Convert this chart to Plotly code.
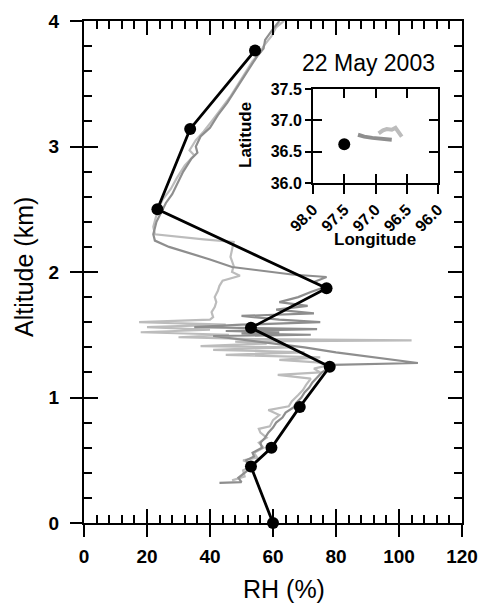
import plotly.graph_objects as go

# ---- profile data: relative humidity (%) vs altitude (km) ----
# spiral-averaged points
pts_rh = [60, 53, 59.5, 68.5, 78, 53, 77, 23.3, 33.7, 54.3]
pts_alt = [0.0, 0.45, 0.6, 0.925, 1.245, 1.555, 1.87, 2.5, 3.14, 3.765]

# continuous profile A (darker grey)
prof_a_rh = [43, 50, 49, 51, 53, 52, 51.5, 54, 53.5, 56.5, 56, 57.5, 58.5, 60, 61, 63,
             64, 66.5, 67.5, 69, 70, 71.5, 72.5, 74, 75.5, 77.5, 79, 106, 92, 80, 70,
             60, 50, 41, 58, 72, 50, 62, 45, 74, 35, 50, 75, 62, 50, 73, 61, 71, 62,
             68, 72, 76.5, 73, 77, 66, 60, 47, 40, 33.5, 27, 22.5, 22, 23, 24.5, 26,
             28, 29.5, 31.5, 34, 36, 35.5, 37, 40, 42.5, 45.5, 48, 50.5, 53, 55, 57,
             57.5, 59.5, 62]
prof_a_alt = [0.32, 0.325, 0.36, 0.40, 0.44, 0.47, 0.50, 0.53, 0.56, 0.60, 0.64, 0.68,
              0.72, 0.76, 0.80, 0.84, 0.88, 0.92, 0.96, 1.00, 1.04, 1.08, 1.12, 1.16,
              1.20, 1.23, 1.26, 1.275, 1.32, 1.36, 1.40, 1.43, 1.46, 1.49, 1.495, 1.50,
              1.51, 1.52, 1.53, 1.545, 1.56, 1.58, 1.60, 1.62, 1.65, 1.67, 1.70, 1.73,
              1.76, 1.80, 1.84, 1.88, 1.92, 1.96, 1.98, 2.00, 2.04, 2.10, 2.15, 2.20,
              2.25, 2.30, 2.40, 2.48, 2.55, 2.62, 2.70, 2.80, 2.90, 2.95, 3.00, 3.08,
              3.15, 3.25, 3.35, 3.45, 3.55, 3.65, 3.72, 3.78, 3.85, 3.92, 4.00]

# continuous profile B (lighter grey)
prof_b_rh = [47, 51, 50.5, 54, 50.5, 55, 54, 57, 55.5, 58, 56, 55.5, 59, 60, 62, 58.5,
             65, 66, 68, 69.5, 70.5, 72, 61.5, 75, 73, 78, 74, 62, 75, 45, 70, 41, 66,
             37, 58, 48, 104, 55, 30, 46, 18, 40, 20, 45, 17.5, 30, 40, 41, 40.5, 41.5,
             42, 41.5, 42.5, 43, 44, 49.5, 47, 47.5, 46.5, 47, 47.5, 38, 29, 22.5, 22,
             23, 23.5, 25, 27.5, 29.5, 32, 35, 33.5, 35.5, 38, 40.5, 43.5, 46.5, 49,
             51.5, 53.5, 56, 57, 59.5, 61, 63.5]
prof_b_alt = [0.34, 0.37, 0.42, 0.46, 0.50, 0.52, 0.56, 0.60, 0.64, 0.68, 0.72, 0.75,
              0.77, 0.82, 0.86, 0.90, 0.93, 0.97, 1.02, 1.06, 1.10, 1.15, 1.18, 1.20,
              1.23, 1.26, 1.28, 1.30, 1.32, 1.34, 1.36, 1.38, 1.40, 1.41, 1.43, 1.445,
              1.455, 1.465, 1.48, 1.50, 1.52, 1.54, 1.56, 1.58, 1.60, 1.61, 1.62, 1.64,
              1.68, 1.72, 1.76, 1.80, 1.85, 1.89, 1.93, 1.97, 2.00, 2.05, 2.12, 2.18,
              2.24, 2.26, 2.28, 2.30, 2.36, 2.44, 2.50, 2.58, 2.66, 2.75, 2.85, 2.93,
              2.97, 3.05, 3.12, 3.20, 3.30, 3.40, 3.50, 3.60, 3.68, 3.75, 3.80, 3.88,
              3.95, 4.00]

# ---- location map (inset) ----
site_lon = [97.5]
site_lat = [36.62]
track_a_lon = [97.28, 97.18, 97.05, 96.92, 96.82, 96.74]
track_a_lat = [36.77, 36.74, 36.72, 36.71, 36.70, 36.69]
track_b_lon = [96.95, 96.88, 96.82, 96.74, 96.68, 96.62, 96.58]
track_b_lat = [36.79, 36.84, 36.86, 36.85, 36.88, 36.80, 36.74]

lat_ticks = [36.0, 36.5, 37.0, 37.5]
lon_ticks = [98.0, 97.5, 97.0, 96.5, 96.0]

DARK = "#8e8e8e"
LIGHT = "#bcbcbc"
FONT = "Liberation Sans, Arial, sans-serif"

fig = go.Figure()
fig.add_trace(go.Scatter(x=prof_b_rh, y=prof_b_alt, mode="lines",
                         line=dict(color=LIGHT, width=2.2), xaxis="x", yaxis="y"))
fig.add_trace(go.Scatter(x=prof_a_rh, y=prof_a_alt, mode="lines",
                         line=dict(color=DARK, width=2.2), xaxis="x", yaxis="y"))
fig.add_trace(go.Scatter(x=pts_rh, y=pts_alt, mode="lines+markers",
                         line=dict(color="black", width=2.8),
                         marker=dict(color="black", size=12), cliponaxis=False,
                         xaxis="x", yaxis="y"))

fig.add_trace(go.Scatter(x=track_b_lon, y=track_b_lat, mode="lines",
                         line=dict(color=LIGHT, width=4), xaxis="x3", yaxis="y3"))
fig.add_trace(go.Scatter(x=track_a_lon, y=track_a_lat, mode="lines",
                         line=dict(color=DARK, width=4), xaxis="x3", yaxis="y3"))
fig.add_trace(go.Scatter(x=site_lon, y=site_lat, mode="markers",
                         marker=dict(color="black", size=12), xaxis="x3", yaxis="y3"))

# empty traces so the overlaid tick-only axes get drawn
fig.add_trace(go.Scatter(x=[None], y=[None], mode="lines", xaxis="x2", yaxis="y2",
                         hoverinfo="skip"))
fig.add_trace(go.Scatter(x=[None], y=[None], mode="lines", xaxis="x4", yaxis="y4",
                         hoverinfo="skip"))

main_x = [84 / 482, 462 / 482]
main_y = [1 - 523 / 603, 1 - 21 / 603]
ins_x = [313 / 482, 438 / 482]
ins_y = [1 - 183 / 603, 1 - 89 / 603]

tickfont = dict(family=FONT, size=19, color="black", weight="bold")
small_tickfont = dict(family=FONT, size=16, color="black", weight="bold")

common = dict(showgrid=False, zeroline=False, showline=True, linecolor="black",
              linewidth=2, tickcolor="black", tickwidth=2, automargin=False)
rh_axis = dict(domain=main_x, range=[0, 120], tickmode="linear", tick0=0, dtick=20)
alt_axis = dict(domain=main_y, range=[0, 4], tickmode="linear", tick0=0, dtick=1)

fig.update_layout(
    template="none",
    width=482, height=603, margin=dict(l=0, r=0, t=0, b=0, autoexpand=False),
    paper_bgcolor="white", plot_bgcolor="rgba(0,0,0,0)", showlegend=False,
    # main axes: outward half of major ticks + labels
    xaxis=dict(anchor="y", ticks="outside", ticklen=12, tickfont=tickfont,
               ticklabelstandoff=3, **rh_axis, **common),
    yaxis=dict(anchor="x", ticks="outside", ticklen=12, tickfont=tickfont,
               ticklabelstandoff=7, **alt_axis, **common),
    # main axes: inward ticks (major + minor), mirrored on all four sides
    xaxis2=dict(anchor="y2", overlaying="x", ticks="inside", ticklen=14,
                showticklabels=False, mirror="ticks",
                minor=dict(ticks="inside", ticklen=8, tick0=0, dtick=4, tickwidth=2,
                           tickcolor="black"), **rh_axis, **common),
    yaxis2=dict(anchor="x2", overlaying="y", ticks="inside", ticklen=14,
                showticklabels=False, mirror="ticks",
                minor=dict(ticks="inside", ticklen=8, tick0=0, dtick=0.2, tickwidth=2,
                           tickcolor="black"), **alt_axis, **common),
    # inset map axes
    xaxis3=dict(domain=ins_x, range=[98.0, 96.0], anchor="y3", tickvals=lon_ticks,
                ticktext=[f"{v:.1f}" for v in lon_ticks], ticks="outside", ticklen=9,
                tickangle=-45, tickfont=small_tickfont, **common),
    yaxis3=dict(domain=ins_y, range=[36.0, 37.5], anchor="x3", tickvals=lat_ticks,
                ticktext=[f"{v:.1f}" for v in lat_ticks], ticks="outside", ticklen=6,
                tickfont=small_tickfont, **common),
    xaxis4=dict(domain=ins_x, range=[98.0, 96.0], anchor="y4", overlaying="x3",
                tickvals=lon_ticks, ticks="inside", ticklen=9, showticklabels=False,
                mirror="ticks", **common),
    yaxis4=dict(domain=ins_y, range=[36.0, 37.5], anchor="x4", overlaying="y3",
                tickvals=lat_ticks, ticks="inside", ticklen=9, showticklabels=False,
                mirror="ticks", **common),
)

ann = [
    dict(text="Altitude (km)", x=24 / 482, y=1 - 267 / 603, textangle=-90,
         font=dict(family=FONT, size=25, color="black")),
    dict(text="RH (%)", x=284 / 482, y=1 - 589 / 603,
         font=dict(family=FONT, size=25, color="black")),
    dict(text="22 May 2003", x=368 / 482, y=1 - 63 / 603,
         font=dict(family=FONT, size=23, color="black")),
    dict(text="Latitude", x=245 / 482, y=1 - 135 / 603, textangle=-90,
         font=dict(family=FONT, size=17, color="black", weight="bold")),
    dict(text="Longitude", x=375 / 482, y=1 - 239 / 603,
         font=dict(family=FONT, size=17, color="black", weight="bold")),
]
for a in ann:
    a.update(xref="paper", yref="paper", showarrow=False, xanchor="center",
             yanchor="middle")
fig.update_layout(annotations=ann)

fig.write_html("out.html")
